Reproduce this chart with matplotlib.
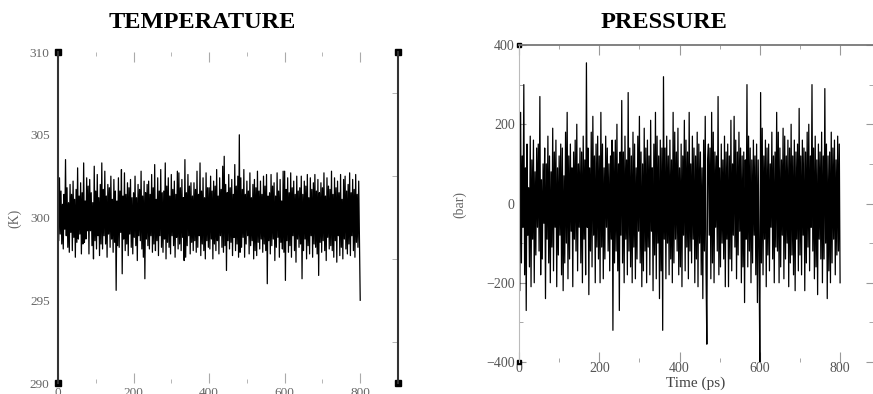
import numpy as np
import matplotlib.pyplot as plt
from matplotlib.ticker import MultipleLocator

# time axis, ps (one sample every 2 ps)
time_ps = np.arange(0, 801, 2)

temperature = [
    301.2, 298.6, 302.4, 299.0, 301.6, 298.4, 300.8, 298.1, 301.4, 299.3, 303.5, 298.9, 301.8, 298.2, 300.9, 297.9, 302.0, 299.1, 301.4, 298.0,
    302.2, 298.8, 301.1, 297.6, 301.7, 298.5, 303.0, 298.7, 301.3, 299.0, 302.1, 297.8, 301.5, 298.4, 303.3, 298.5, 301.0, 298.7, 302.4, 299.2,
    301.9, 297.8, 302.3, 299.2, 301.5, 298.3, 300.9, 297.5, 303.1, 298.6, 301.6, 298.1, 302.6, 298.9, 301.2, 297.7, 302.0, 298.4, 303.3, 298.1,
    301.7, 298.9, 302.8, 298.4, 301.3, 297.6, 302.0, 299.0, 301.8, 298.2, 302.5, 298.7, 301.1, 297.9, 302.3, 298.5, 301.6, 295.6, 301.0, 298.3,
    302.4, 298.2, 301.6, 299.1, 302.9, 296.6, 301.3, 298.7, 302.7, 298.0, 301.4, 298.4, 302.1, 297.7, 301.8, 299.0, 302.3, 298.2, 301.2, 297.8,
    301.5, 298.8, 302.5, 298.3, 301.2, 297.4, 302.0, 298.9, 301.7, 298.6, 302.8, 298.1, 301.3, 297.6, 302.2, 296.3, 301.5, 298.7, 302.0, 298.3,
    302.2, 298.1, 301.4, 298.9, 302.6, 297.9, 301.8, 298.4, 303.2, 298.0, 301.1, 298.6, 302.4, 297.7, 301.6, 298.9, 302.9, 298.2, 301.5, 297.9,
    301.6, 298.7, 303.3, 297.5, 301.9, 298.5, 302.4, 298.2, 301.3, 297.8, 302.6, 298.9, 301.7, 298.3, 302.2, 297.6, 301.4, 298.8, 302.8, 298.1,
    302.7, 298.4, 301.8, 298.0, 302.3, 298.8, 301.2, 297.4, 303.5, 297.6, 301.5, 298.3, 302.6, 298.9, 301.9, 297.8, 302.1, 298.5, 301.3, 298.0,
    302.1, 298.6, 301.7, 297.9, 302.8, 298.2, 301.4, 298.9, 303.3, 297.7, 301.6, 298.4, 302.4, 298.0, 301.2, 297.5, 302.7, 298.6, 301.8, 298.2,
    301.8, 298.1, 302.5, 298.7, 301.6, 297.5, 302.2, 298.4, 301.9, 298.0, 302.9, 298.6, 301.3, 297.8, 302.4, 298.9, 301.7, 298.2, 303.1, 297.9,
    303.7, 298.3, 302.0, 296.8, 301.5, 298.6, 302.6, 298.1, 301.8, 298.5, 302.3, 297.7, 301.4, 298.8, 303.2, 298.0, 301.9, 298.4, 302.5, 297.6,
    305.0, 297.9, 302.4, 298.2, 301.7, 298.8, 302.9, 297.6, 301.4, 298.4, 302.2, 298.9, 301.6, 297.8, 302.7, 298.3, 301.2, 298.6, 302.0, 297.5,
    302.3, 298.0, 301.8, 297.7, 302.8, 298.5, 301.6, 298.1, 302.2, 298.7, 301.4, 297.9, 302.5, 298.4, 301.9, 298.0, 302.6, 296.0, 301.3, 298.6,
    301.5, 297.8, 302.6, 298.3, 301.9, 298.7, 302.1, 297.4, 301.3, 298.2, 302.7, 298.8, 301.6, 297.6, 302.3, 298.5, 301.0, 298.1, 302.8, 297.9,
    302.8, 296.2, 301.7, 298.6, 302.4, 297.9, 301.5, 298.3, 302.7, 297.6, 301.8, 298.9, 302.2, 298.0, 301.4, 297.3, 302.5, 298.7, 301.6, 298.2,
    301.8, 298.4, 302.5, 296.3, 301.4, 298.0, 302.2, 298.7, 301.9, 297.5, 302.6, 298.3, 301.2, 297.8, 302.4, 298.9, 301.7, 297.6, 302.1, 298.4,
    302.6, 298.2, 301.6, 297.8, 302.3, 296.5, 301.5, 298.5, 302.1, 297.9, 301.8, 298.6, 302.7, 298.0, 301.3, 297.4, 302.4, 298.8, 301.9, 298.1,
    301.7, 298.3, 302.8, 298.0, 301.4, 297.6, 302.4, 298.6, 301.8, 297.3, 302.2, 298.9, 301.5, 297.7, 302.6, 298.2, 301.1, 297.5, 302.3, 298.7,
    302.5, 298.1, 301.6, 297.8, 302.0, 298.4, 302.7, 297.7, 301.5, 298.9, 302.3, 298.0, 301.7, 297.6, 302.6, 298.5, 301.4, 298.2, 302.2, 298.8,
    295.0,
]

pressure = [
    50, -220, 230, -150, 120, -60, 300, -180, 90, -270, 150, -80, 40, -160, 170, -210, 110, -90, 160, -200,
    80, -130, 140, -60, 150, -120, 270, -180, 60, -140, 100, -50, 140, -240, 100, -90, 170, -150, 120, -200,
    80, -110, 190, -170, 130, -60, 160, -210, 90, -130, 120, -80, 150, -180, 140, -220, 70, -150, 180, -100,
    230, -190, 120, -140, 150, -70, 90, -210, 130, -90, 160, -120, 200, -170, 100, -60, 140, -150, 130, -200,
    170, -90, 110, -180, 355, -60, 140, -230, 90, -120, 180, -160, 220, -80, 120, -200, 150, -110, 170, -140,
    120, -200, 230, -110, 150, -190, 90, -140, 170, -60, 140, -120, 100, -170, 120, -90, 160, -320, 130, -150,
    160, -120, 200, -170, 100, -270, 130, -80, 260, -150, 130, -200, 170, -90, 110, -180, 280, -120, 140, -160,
    120, -200, 180, -110, 150, -190, 90, -140, 170, -70, 220, -150, 130, -210, 100, -170, 190, -120, 140, -200,
    160, -110, 120, -180, 210, -70, 90, -220, 150, -130, 230, -190, 170, -100, 120, -240, 160, -170, 140, -320,
    320, -90, 140, -190, 170, -100, 120, -180, 160, -140, 110, -200, 230, -150, 180, -90, 130, -120, 190, -180,
    90, -160, 150, -210, 120, -80, 210, -170, 160, -110, 130, -190, 230, -120, 100, -150, 170, -90, 140, -200,
    120, -140, 180, -210, 150, -100, 130, -180, 90, -240, 160, -120, 220, -170, -355, 110, 150, -80, 140, -190,
    230, -150, 180, -200, 130, -60, 120, -120, 270, -180, 90, -160, 150, -100, 110, -140, 170, -210, 130, -90,
    150, -210, 120, -140, 210, -170, 100, -80, 220, -110, 160, -190, 130, -130, 180, -70, 140, -200, 120, -160,
    130, -250, 110, -90, 300, -160, 170, -120, 140, -200, 110, -150, 160, -80, 120, -180, 150, -250, 110, -120,
    -400, 280, -150, 190, -180, 120, -90, 160, -210, 140, -130, 150, -170, 100, -60, 180, -140, 120, -200, 130,
    -110, 230, -120, 180, -200, 140, -160, 110, -80, 190, -190, 170, -140, 120, -100, 160, -210, 140, -150, 200,
    -130, 120, -180, 160, -220, 130, -90, 150, -170, 240, -130, 120, -180, 160, -80, 140, -220, 130, -150, 180,
    -110, 200, -170, 120, -60, 300, -120, 140, -190, 170, -160, 110, -230, 150, -90, 130, -140, 180, -200, 120,
    -140, 290, -100, 150, -240, 120, -170, 130, -200, 180, -150, 140, -90, 160, -180, 110, -130, 170, -120, 150,
    -200,
]

temp_ticks = [290, 295, 300, 305, 310]
pres_ticks = [-400, -200, 0, 200, 400]
time_ticks = [0, 200, 400, 600, 800]

plt.rcParams['font.family'] = ['Liberation Serif', 'DejaVu Serif']

fig = plt.figure(figsize=(8.73, 3.94), dpi=100)

# ---- temperature panel
ax1 = fig.add_axes([0.0664, 0.0279, 0.3895, 0.840])
ax1.plot(time_ps, temperature, color="black", lw=0.9)
ax1.set_xlim(0, 900)
ax1.set_ylim(290, 310)
ax1.set_yticks(temp_ticks)
ax1.set_xticks(time_ticks)
ax1.xaxis.set_minor_locator(MultipleLocator(100))
ax1.yaxis.set_minor_locator(MultipleLocator(2.5))
ax1.tick_params(axis="both", which="both", direction="in", colors="#aaaaaa",
                labelcolor="#666666", labelsize=9.5)
ax1.tick_params(axis="x", which="major", length=7, top=True, pad=3)
ax1.tick_params(axis="x", which="minor", length=3, top=True)
ax1.tick_params(axis="y", which="major", length=0, right=True, pad=6)
ax1.tick_params(axis="y", which="minor", length=4, right=True, left=False)
for s in ["top", "bottom"]:
    ax1.spines[s].set_visible(False)
for s in ["left", "right"]:
    ax1.spines[s].set_color("#333333")
    ax1.spines[s].set_linewidth(1.5)
ax1.plot([0, 0, 900, 900], [290, 310, 290, 310], "s", color="black",
         ms=4, clip_on=False)
fig.text(15 / 873, 1 - 218 / 394, "(K)", rotation=90, ha="center",
         va="center", fontsize=10, color="#666666")
fig.text(202 / 873, 1 - 23 / 394, "TEMPERATURE", ha="center", va="center",
         fontsize=17.5, fontweight="bold")

# ---- pressure panel
ax2 = fig.add_axes([0.5945, 0.0812, 0.4055, 0.8046])
ax2.plot(time_ps, pressure, color="black", lw=0.9)
ax2.set_xlim(0, 882)
ax2.set_ylim(-400, 400)
ax2.set_yticks(pres_ticks)
ax2.set_xticks(time_ticks)
ax2.xaxis.set_minor_locator(MultipleLocator(100))
ax2.yaxis.set_minor_locator(MultipleLocator(100))
ax2.tick_params(axis="both", which="both", direction="in", colors="#999999",
                labelcolor="#555555", labelsize=10)
ax2.tick_params(axis="x", which="major", length=7, top=True, pad=0)
ax2.tick_params(axis="x", which="minor", length=3, top=True)
ax2.tick_params(axis="y", which="major", length=5, right=True, pad=3)
ax2.tick_params(axis="y", which="minor", length=3, right=True)
ax2.spines["bottom"].set_visible(False)
ax2.spines["right"].set_visible(False)
ax2.spines["left"].set_color("#bbbbbb")
ax2.spines["top"].set_color("#777777")
ax2.spines["top"].set_linewidth(1.3)
ax2.plot([0, 0], [-400, 400], "s", color="black", ms=3.5, clip_on=False)
ax2.set_xlabel("Time (ps)", fontsize=11, color="#444444", labelpad=1)
fig.text(460 / 873, 1 - 205 / 394, "(bar)", rotation=90, ha="center",
         va="center", fontsize=10, color="#666666")
fig.text(664 / 873, 1 - 23 / 394, "PRESSURE", ha="center", va="center",
         fontsize=17.5, fontweight="bold")

fig.savefig("out.png", dpi=100)
